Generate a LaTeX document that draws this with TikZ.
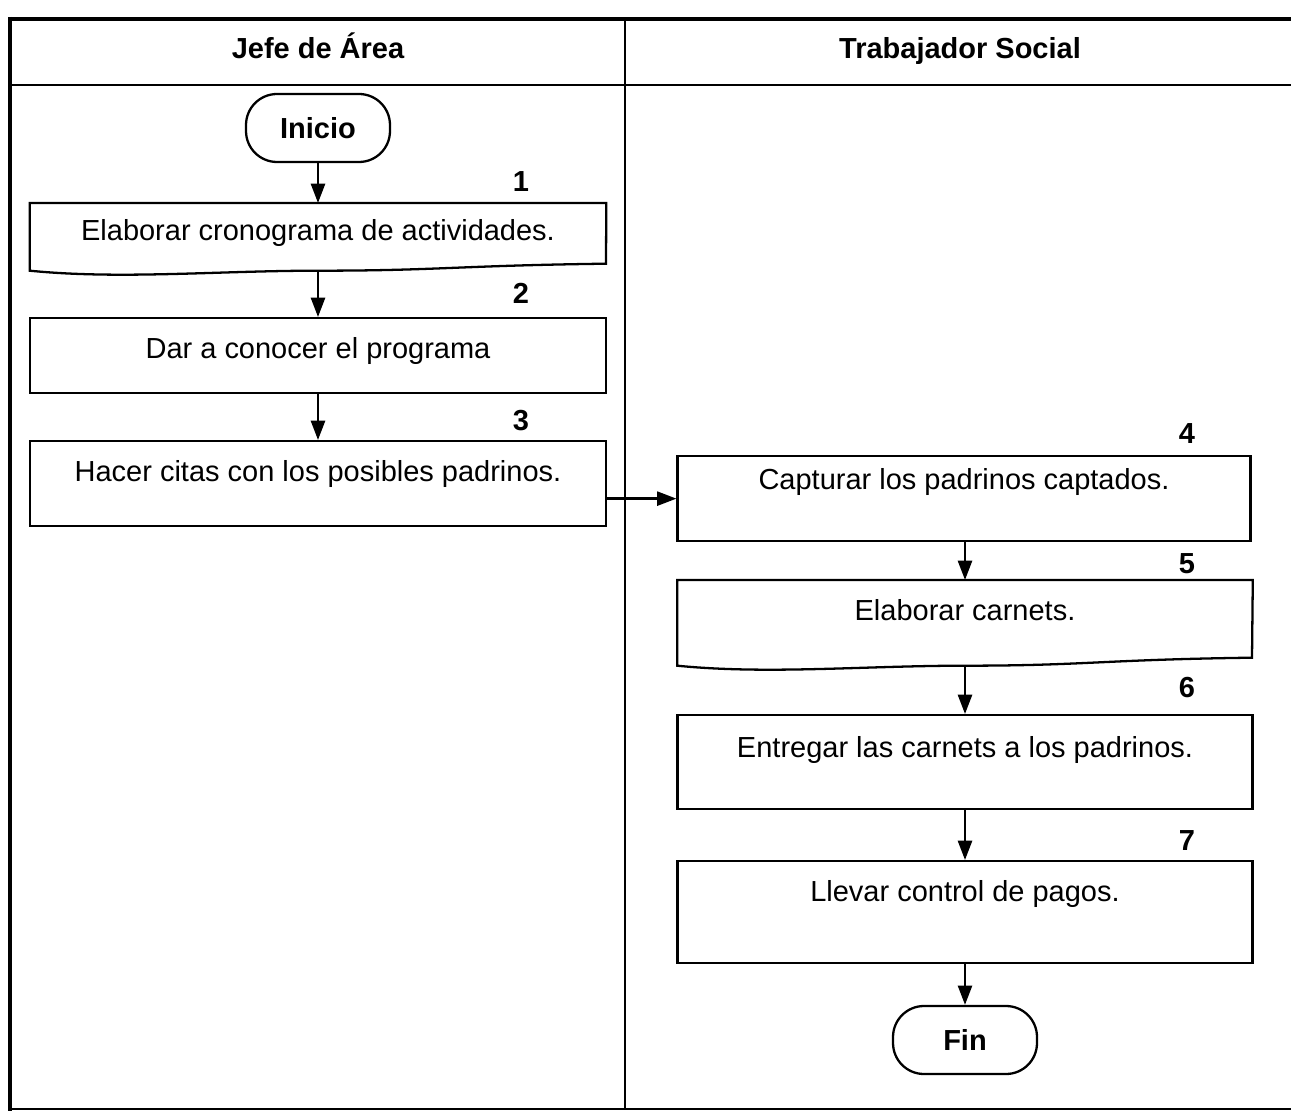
\documentclass[tikz,border=0pt]{standalone}
\usepackage{fontspec}
\setmainfont{Liberation Sans}
\usetikzlibrary{arrows.meta}

\begin{document}
\begin{tikzpicture}[x=0.02cm,y=-0.02cm,
  font=\fontsize{16.5}{19}\selectfont,
  caja/.style 2 args={draw, line width=1.3pt, minimum width=11.52cm, inner ysep=0pt, text height=#1, text depth=#2, anchor=north},
  doc/.style 2 args={minimum width=11.52cm, inner ysep=0pt, text height=#1, text depth=#2, anchor=north},
  term/.style={draw, line width=1.3pt, rounded corners=0.62cm, minimum width=2.88cm, minimum height=1.36cm, font=\fontsize{16.5}{19}\selectfont\bfseries},
  num/.style={font=\fontsize{16.5}{19}\selectfont\bfseries, text height=0.42cm, text depth=0pt},
  flecha/.style={line width=1.4pt, -{Triangle[length=11pt,width=8pt]}}]
\useasboundingbox (0,0) rectangle (1291,1111);

% carriles
\draw[line width=2.4pt] (10,19) -- (1291,19);
\draw[line width=1.8pt] (10,17) -- (10,1111);
\draw[line width=1.5pt] (10,85) -- (1291,85);
\draw[line width=1.2pt] (625,19) -- (625,1109);
\draw[line width=1.5pt] (10,1109) -- (1291,1109);
\node[num] (jefe) at (318,48) {Jefe de Área};
\node[num] (trab) at (960,48) {Trabajador Social};

% Jefe de Area
\node[term] (ini) at (318,128) {Inicio};
\node[doc={0.75cm}{0.59cm}] (d1) at (318,203) {Elaborar cronograma de actividades.};
\draw[line width=1.3pt] (d1.south west) .. controls +(90,9) and +(-100,0) .. (d1.south)
  .. controls +(120,0) and +(-150,2) .. ++(288,-7) -- (d1.north east) -- (d1.north west) -- cycle;
\node[caja={0.81cm}{0.69cm}] (c2) at (318,317) {Dar a conocer el programa};
\node[caja={0.81cm}{0.89cm}] (c3) at (318,440) {Hacer citas con los posibles padrinos.};

\node[num] (n1) at (521,181) {1};
\node[num] (n2) at (521,293) {2};
\node[num] (n3) at (521,420) {3};

% Trabajador Social
\node[caja={0.67cm}{1.03cm}, minimum width=11.46cm] (c4) at (964,455) {Capturar los padrinos captados.};
\node[doc={0.81cm}{0.89cm}, minimum width=11.5cm] (d5) at (965,580) {Elaborar carnets.};
\draw[line width=1.3pt] (d5.south west) .. controls +(90,9) and +(-100,0) .. (d5.south)
  .. controls +(120,0) and +(-150,2) .. ++(287,-8) -- (d5.north east) -- (d5.north west) -- cycle;
\node[caja={0.85cm}{1.03cm}, minimum width=11.5cm] (c6) at (965,714) {Entregar las carnets a los padrinos.};
\node[caja={0.81cm}{1.23cm}, minimum width=11.5cm] (c7) at (965,860) {Llevar control de pagos.};
\node[term] (fin) at (965,1040) {Fin};

\node[num] (n4) at (1187,433) {4};
\node[num] (n5) at (1187,563) {5};
\node[num] (n6) at (1187,687) {6};
\node[num] (n7) at (1187,840) {7};

% flujo
\draw[flecha] (ini) -- (d1);
\draw[flecha] (d1) -- (c2);
\draw[flecha] (c2) -- (c3);
\draw[flecha] (c3.east |- c4) -- (c4.west);
\draw[flecha] (c4.south -| d5) -- (d5);
\draw[flecha] (d5) -- (c6);
\draw[flecha] (c6) -- (c7);
\draw[flecha] (c7) -- (fin);
\end{tikzpicture}
\end{document}
